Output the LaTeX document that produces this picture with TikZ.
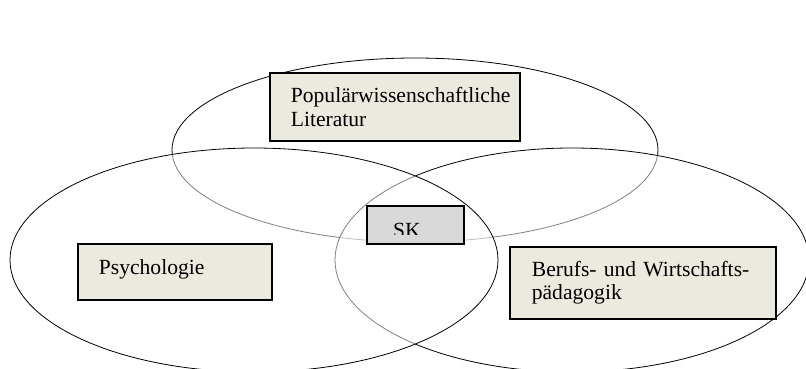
\documentclass[tikz,border=0pt]{standalone}
\usepackage{fontspec}
\setmainfont{Liberation Serif}
\usetikzlibrary{shapes.geometric}
\definecolor{boxbeige}{RGB}{236,233,223}
\definecolor{skgray}{RGB}{217,217,217}
\tikzset{
  field/.style={draw, ellipse, line width=0.8pt, fill=white, fill opacity=0.5, inner sep=0pt},
  topic/.style={draw, line width=1.7pt, fill=boxbeige, anchor=north west, align=left, inner ysep=0pt},
}
\begin{document}
\begin{tikzpicture}[x=1pt, y=-1pt, font=\fontsize{21.6}{23.5}\selectfont]
  \useasboundingbox (0,0) rectangle (806,368);
  \clip (0,0) rectangle (806,368);
  % the three fields
  \node[field, minimum width=486pt, minimum height=184pt] (lit) at (415,150) {};
  \node[field, minimum width=474pt, minimum height=224pt] (bwp) at (572,260) {};
  \node[field, minimum width=488pt, minimum height=224pt] (psy) at (254,260) {};
  % labels
  \node[topic, inner xsep=21pt, text width=208pt, minimum height=68pt] (littext) at (269,72) {\mbox{Populärwissenschaftliche}\\Literatur};
  \node[topic, inner xsep=21pt, text width=152pt, minimum height=56pt, text depth=10pt] (psytext) at (77,243) {Psychologie};
  \node[topic, inner xsep=22pt, text width=222pt, minimum height=72pt] (bwptext) at (509,246) {Berufs- und Wirtschafts-\\pädagogik};
  \node[draw, line width=1.7pt, fill=skgray, anchor=north west, minimum width=97pt, minimum height=38pt, inner sep=0pt] (sk) at (366,205) {};
  \begin{scope}
    \clip (sk.north west) rectangle ([yshift=10pt]sk.south east);
    \node[anchor=base west, inner sep=0pt] (sktext) at ([xshift=27pt, yshift=7pt]sk.south west) {SK};
  \end{scope}
\end{tikzpicture}
\end{document}
